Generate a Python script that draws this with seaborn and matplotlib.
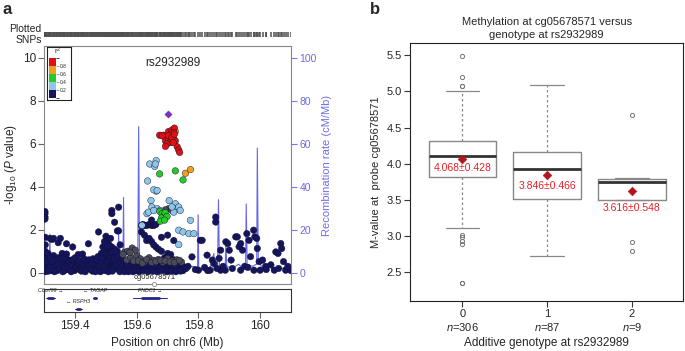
import numpy as np
import pandas as pd
import seaborn as sns
import matplotlib.pyplot as plt
from matplotlib.colors import ListedColormap, BoundaryNorm
from matplotlib.cm import ScalarMappable

## Data: panel a (regional plot), (position Mb, -log10 P) per LD bin
index_snp = [(159.701, 7.38)]

red_snps = [(159.674, 6.40), (159.687, 6.40), (159.703, 6.57), (159.714, 6.64), (159.722, 6.73),
            (159.720, 6.53), (159.711, 6.45), (159.698, 6.30), (159.693, 6.14), (159.703, 6.17),
            (159.709, 6.06), (159.698, 5.99), (159.693, 5.88), (159.720, 6.22), (159.725, 6.14),
            (159.731, 5.86), (159.736, 5.71), (159.739, 5.60), (159.682, 6.37), (159.703, 6.37),
            (159.714, 6.30), (159.718, 6.06), (159.722, 6.45)]
orange_snps = [(159.711, 6.53), (159.725, 6.57), (159.758, 4.63), (159.774, 4.80)]
green_snps = [(159.674, 4.60), (159.725, 4.74), (159.750, 4.32), (159.675, 2.85), (159.682, 2.75),
              (159.688, 2.65), (159.680, 2.55), (159.692, 2.80), (159.698, 2.62), (159.676, 2.40),
              (159.690, 2.45)]
lightblue_snps = [(159.642, 5.06), (159.658, 4.95), (159.663, 5.22), (159.660, 5.06), (159.635, 4.27),
                  (159.663, 3.80), (159.655, 3.86), (159.646, 3.36), (159.633, 2.75), (159.649, 3.06),
                  (159.666, 2.98), (159.676, 2.90), (159.705, 3.36), (159.725, 3.21), (159.731, 2.98),
                  (159.736, 3.06), (159.741, 2.90), (159.736, 1.98), (159.750, 1.90), (159.736, 1.31),
                  (159.774, 2.44), (159.769, 1.82), (159.785, 1.82), (159.617, 2.21), (159.666, 3.83),
                  (159.720, 2.82), (159.714, 3.06), (159.638, 2.82), (159.655, 2.90)]
gray_snps = [(159.703, 2.98), (159.714, 2.90), (159.725, 2.93), (159.693, 2.93), (159.568, 0.60),
             (159.580, 0.72), (159.590, 0.55), (159.600, 0.80), (159.612, 0.65), (159.625, 0.50),
             (159.640, 0.70), (159.655, 0.58), (159.670, 0.62), (159.685, 0.48), (159.700, 0.66),
             (159.715, 0.55), (159.730, 0.60), (159.745, 0.50), (159.560, 0.95), (159.570, 1.00),
             (159.555, 0.85), (159.585, 1.15), (159.595, 1.05), (159.578, 0.95), (159.605, 0.55),
             (159.618, 0.45), (159.632, 0.62), (159.648, 0.48), (159.662, 0.52), (159.678, 0.58),
             (159.692, 0.55), (159.708, 0.50), (159.722, 0.47), (159.738, 0.58)]
navy_snps = [
    (159.302, 2.85), (159.302, 2.75), (159.302, 2.60), (159.302, 2.50), (159.303, 1.65), (159.303, 1.30),
    (159.303, 1.00), (159.303, 0.75), (159.312, 0.90), (159.312, 0.40), (159.318, 1.60), (159.318, 0.60),
    (159.318, 0.20), (159.325, 1.55), (159.325, 0.35), (159.325, 0.10), (159.330, 1.60), (159.330, 0.80),
    (159.330, 0.30), (159.338, 0.50), (159.338, 0.15), (159.345, 1.40), (159.345, 0.70), (159.345, 0.25),
    (159.352, 1.60), (159.352, 0.40), (159.358, 0.90), (159.358, 0.20), (159.365, 0.55), (159.365, 0.10),
    (159.372, 1.35), (159.372, 0.87), (159.372, 0.30), (159.378, 0.60), (159.378, 0.15), (159.385, 0.45),
    (159.392, 1.20), (159.392, 0.25), (159.398, 0.50), (159.398, 0.10), (159.405, 0.35), (159.410, 0.85),
    (159.410, 0.20), (159.418, 0.40), (159.424, 0.87), (159.425, 0.10), (159.430, 0.30), (159.435, 0.60),
    (159.438, 0.45), (159.443, 1.35), (159.443, 0.20), (159.450, 0.55), (159.456, 0.30), (159.456, 0.08),
    (159.462, 0.50), (159.468, 0.25), (159.476, 1.90), (159.476, 0.40), (159.480, 0.60), (159.485, 0.90),
    (159.485, 0.20), (159.490, 1.20), (159.490, 0.50), (159.495, 1.45), (159.495, 0.70), (159.495, 0.30),
    (159.500, 1.70), (159.500, 1.10), (159.500, 0.60), (159.505, 1.50), (159.505, 0.90), (159.505, 0.25),
    (159.510, 1.30), (159.510, 0.80), (159.510, 0.40), (159.515, 1.60), (159.515, 1.00), (159.515, 0.50),
    (159.519, 2.90), (159.519, 2.75), (159.519, 1.20), (159.519, 0.30), (159.523, 0.90), (159.523, 0.60),
    (159.528, 2.35), (159.528, 1.10), (159.528, 0.40), (159.533, 0.80), (159.533, 0.20), (159.537, 1.95),
    (159.537, 1.00), (159.541, 3.05), (159.541, 1.95), (159.541, 0.50), (159.546, 1.30), (159.546, 0.70),
    (159.550, 0.60), (159.550, 0.20), (159.556, 0.40), (159.556, 0.10), (159.562, 0.30), (159.570, 0.45),
    (159.570, 0.15), (159.580, 0.35), (159.590, 0.25), (159.600, 0.40), (159.600, 0.10), (159.610, 0.30),
    (159.615, 2.20), (159.615, 1.90), (159.620, 2.25), (159.620, 0.20), (159.625, 2.20), (159.625, 1.75),
    (159.632, 2.20), (159.632, 1.50), (159.640, 2.25), (159.640, 1.60), (159.640, 0.30), (159.648, 2.20),
    (159.648, 2.45), (159.648, 1.45), (159.655, 2.20), (159.655, 1.30), (159.662, 2.25), (159.662, 1.20),
    (159.670, 1.10), (159.670, 0.40), (159.680, 1.65), (159.680, 1.00), (159.690, 0.70), (159.690, 0.25),
    (159.700, 1.75), (159.700, 0.90), (159.710, 0.85), (159.710, 0.30), (159.720, 0.60), (159.720, 1.50),
    (159.730, 0.50), (159.730, 0.15), (159.740, 0.40), (159.750, 0.30), (159.750, 0.10),
    (159.301, 0.30), (159.307, 0.15), (159.315, 0.45), (159.322, 0.25), (159.335, 0.40), (159.342, 0.10),
    (159.350, 0.20), (159.362, 0.35), (159.368, 0.25), (159.375, 0.40), (159.382, 0.20), (159.388, 0.35),
    (159.395, 0.15), (159.402, 0.25), (159.408, 0.45), (159.415, 0.15), (159.422, 0.30), (159.428, 0.45),
    (159.435, 0.20), (159.440, 0.40), (159.447, 0.30), (159.452, 0.15), (159.460, 0.35), (159.465, 0.45),
    (159.472, 0.20), (159.478, 0.30), (159.487, 0.45), (159.492, 0.25), (159.498, 0.35), (159.503, 0.50),
    (159.512, 0.15), (159.517, 0.60), (159.525, 0.25), (159.530, 0.55), (159.535, 0.35), (159.543, 0.20),
    (159.548, 0.45), (159.553, 0.30), (159.558, 0.55), (159.565, 0.20), (159.575, 0.30), (159.585, 0.15),
    (159.595, 0.35), (159.605, 0.20), (159.612, 0.50), (159.630, 0.35), (159.645, 0.15), (159.660, 0.30),
    (159.675, 0.20), (159.685, 0.35), (159.695, 0.15), (159.705, 0.40), (159.715, 0.20), (159.725, 0.30),
    (159.735, 0.45), (159.745, 0.15),
    (159.304, 0.05), (159.309, 0.55), (159.314, 0.08), (159.320, 0.70), (159.327, 0.55), (159.333, 0.05),
    (159.340, 0.60), (159.347, 0.45), (159.355, 0.65), (159.360, 0.05), (159.367, 0.70), (159.380, 0.55),
    (159.387, 0.05), (159.390, 0.60), (159.400, 0.70), (159.412, 0.55), (159.420, 0.08), (159.427, 0.65),
    (159.433, 0.05), (159.445, 0.60), (159.454, 0.45), (159.458, 0.65), (159.466, 0.05), (159.470, 0.60),
    (159.474, 0.75), (159.482, 0.05), (159.488, 0.70), (159.493, 0.95), (159.497, 0.10), (159.502, 0.85),
    (159.507, 1.25), (159.508, 0.05), (159.513, 0.75), (159.518, 0.95), (159.521, 0.08), (159.526, 0.70),
    (159.531, 1.00), (159.539, 0.75), (159.545, 0.05), (159.552, 0.70), (159.560, 0.05), (159.567, 0.45),
    (159.573, 0.05), (159.583, 0.50), (159.588, 0.05), (159.597, 0.10), (159.608, 0.05), (159.622, 0.10),
    (159.636, 0.05), (159.652, 0.08), (159.667, 0.05), (159.682, 0.10), (159.698, 0.05), (159.712, 0.08),
    (159.727, 0.05), (159.742, 0.08),
    (159.766, 0.30), (159.779, 0.74), (159.800, 0.12), (159.806, 1.51), (159.812, 1.51), (159.828, 0.82),
    (159.838, 0.12), (159.845, 0.59), (159.850, 0.43), (159.856, 2.59), (159.856, 2.36), (159.867, 0.67),
    (159.872, 1.05), (159.872, 0.12), (159.887, 0.12), (159.889, 1.44), (159.895, 1.36), (159.900, 1.05),
    (159.906, 0.59), (159.921, 1.67), (159.926, 1.67), (159.932, 1.21), (159.937, 1.36), (159.937, 0.12),
    (159.943, 1.05), (159.950, 0.30), (159.957, 1.82), (159.964, 1.51), (159.969, 0.75), (159.979, 1.98),
    (159.980, 0.12), (159.983, 1.67), (159.989, 1.60), (159.991, 1.13), (159.997, 0.52), (160.000, 0.12),
    (160.008, 0.59), (160.018, 0.30), (160.035, 0.37), (160.046, 0.12), (160.051, 0.97), (160.058, 0.90),
    (160.067, 1.36), (160.070, 1.13), (160.076, 0.52), (160.083, 0.12), (160.100, 0.10), (159.760, 0.20),
    (159.790, 0.15), (159.820, 0.25), (159.830, 0.10), (159.860, 0.20), (159.880, 0.30), (159.910, 0.20),
    (159.960, 0.25), (160.020, 0.15), (160.060, 0.20), (160.090, 0.30)]

# recombination rate (cM/Mb)
recomb_pos = [159.300, 159.306, 159.312, 159.316, 159.318, 159.320, 159.330, 159.345, 159.360, 159.380,
              159.400, 159.420, 159.440, 159.460, 159.480, 159.500, 159.515, 159.525, 159.530, 159.539,
              159.541, 159.543, 159.552, 159.555, 159.557, 159.559, 159.570, 159.590, 159.603, 159.606,
              159.609, 159.620, 159.640, 159.660, 159.680, 159.700, 159.720, 159.740, 159.760, 159.780,
              159.797, 159.799, 159.801, 159.820, 159.840, 159.850, 159.853, 159.862, 159.865, 159.868,
              159.880, 159.887, 159.889, 159.892, 159.910, 159.930, 159.945, 159.953, 159.955, 159.958,
              159.975, 159.989, 159.991, 159.994, 160.010, 160.030, 160.050, 160.070, 160.090, 160.100]
recomb_rate = [2, 1, 3, 1, 18, 1, 3, 1, 2, 1,
               2, 1, 3, 1, 2, 4, 2, 6, 2, 3,
               18, 3, 2, 4, 35, 3, 2, 3, 2, 68,
               2, 1, 2, 1, 2, 1, 2, 1, 2, 3,
               2, 27, 2, 1, 3, 9, 2, 3, 34, 3,
               2, 4, 13, 3, 2, 4, 2, 5, 32, 4,
               3, 4, 58, 5, 2, 3, 1, 2, 3, 1]

cpg_name = 'cg05678571'
cpg_pos = 159.657
lead_snp = 'rs2932989'

gene_names = ['C6orf99', 'TAGAP', 'RSPH3', 'FNDC1']
gene_start = [159.305, 159.459, 159.400, 159.589]
gene_end = [159.335, 159.472, 159.422, 159.699]
gene_strand = ['+', '-', '-', '+']
gene_row = [0, 0, 1, 0]

## Data: panel b (boxplot summary)
genotypes = ['0', '1', '2']
n_samples = [306, 87, 9]
box_q1 = [3.82, 3.51, 3.50]
box_med = [4.10, 3.93, 3.74]
box_q3 = [4.31, 4.16, 3.79]
whisk_lo = [3.11, 2.72, 3.50]
whisk_hi = [5.00, 5.09, 3.80]
outliers = [[5.49, 5.20, 5.08, 5.07, 3.01, 2.98, 2.93, 2.89, 2.35, 2.34], [], [4.68, 2.92, 2.79]]
means = [4.068, 3.846, 3.616]
sds = [0.428, 0.466, 0.548]
label_drop = [0.13, 0.15, 0.23]

ld_colors = {'navy': '#15155f', 'gray': '#4a4a58', 'lightblue': '#8ec6e8',
             'green': '#22cc22', 'orange': '#f0a020', 'red': '#e01010'}

## Style
sns.set_style('ticks')
plt.rcParams['font.family'] = ['Liberation Sans', 'DejaVu Sans']
plt.rcParams['mathtext.fontset'] = 'custom'
plt.rcParams['mathtext.rm'] = 'Liberation Sans'
plt.rcParams['mathtext.it'] = 'Liberation Sans:italic'
plt.rcParams['mathtext.bf'] = 'Liberation Sans:bold'

fig = plt.figure(figsize=(6.85, 3.51), dpi=100)

## Panel a
ax = fig.add_axes([0.0647, 0.191, 0.360, 0.678])
ax_r = ax.twinx()
ax_rug = fig.add_axes([0.0647, 0.894, 0.360, 0.014])
ax_gene = fig.add_axes([0.0647, 0.111, 0.360, 0.0655])

groups = [('navy', navy_snps), ('gray', gray_snps), ('lightblue', lightblue_snps),
          ('green', green_snps), ('orange', orange_snps), ('red', red_snps)]
frames = []
for ld, pts in groups:
    p, v = zip(*pts)
    frames.append(pd.DataFrame({'pos': p, 'logp': v, 'ld': ld}))
snp_df = pd.concat(frames, ignore_index=True)

recomb_df = pd.DataFrame({'pos': recomb_pos, 'rate': recomb_rate})
sns.lineplot(data=recomb_df, x='pos', y='rate', ax=ax_r, color='#4a4af0', lw=0.8, alpha=0.85)

sns.scatterplot(data=snp_df, x='pos', y='logp', hue='ld', palette=ld_colors, s=22,
                edgecolor='#10102a', linewidth=0.3, legend=False, ax=ax, zorder=3)
ip, iv = zip(*index_snp)
sns.scatterplot(x=list(ip), y=list(iv), marker='D', s=14, color='#7b2fbe', edgecolor='#7b2fbe',
                ax=ax, zorder=4)

ax.set_zorder(ax_r.get_zorder() + 1)
ax.patch.set_visible(False)

ax.set_xlim(159.3, 160.1)
ax.set_ylim(-0.52, 10.55)
ax_r.set_ylim(-5.2, 105.5)
ax.set_xticks([])
ax.set_xlabel('')
ax.set_yticks(range(0, 11, 2))
ax.tick_params(axis='y', labelsize=8.5, length=4, color='#666666', pad=2)
ax.set_ylabel('-log$_{10}$ ($P$ value)', fontsize=8.5, labelpad=3)
for s in ax.spines.values():
    s.set_color('#888888')
    s.set_linewidth(0.8)
for s in ax_r.spines.values():
    s.set_visible(False)
ax_r.set_yticks(range(0, 101, 20))
ax_r.tick_params(axis='y', labelsize=7.5, length=4, color='#7777ee', labelcolor='#6a6ae0', pad=2)
ax_r.set_ylabel('Recombination rate (cM/Mb)', fontsize=8, color='#7070e0', labelpad=4)
ax_r.set_xlabel('')

ax.text(159.717, 9.75, lead_snp, fontsize=8.5, ha='center', va='center')
ax.text(cpg_pos, -0.22, cpg_name, fontsize=5.5, ha='center', va='center')
ax.plot([cpg_pos], [-0.52], marker='o', ms=3, mfc='white', mec='#888888', mew=0.6,
        clip_on=False, zorder=5)

# LD legend
ax_leg = fig.add_axes([0.0686, 0.715, 0.035, 0.151])
ax_leg.set_xticks([])
ax_leg.set_yticks([])
ax_leg.set_zorder(ax.get_zorder() + 1)
for s in ax_leg.spines.values():
    s.set_color('#222222')
    s.set_linewidth(0.8)
cax = fig.add_axes([0.0717, 0.720, 0.0095, 0.115])
cax.set_zorder(ax_leg.get_zorder() + 1)
cmap = ListedColormap([ld_colors['navy'], ld_colors['lightblue'], ld_colors['green'],
                       ld_colors['orange'], ld_colors['red']])
norm = BoundaryNorm([0, 0.2, 0.4, 0.6, 0.8, 1.0], cmap.N)
cb = fig.colorbar(ScalarMappable(norm=norm, cmap=cmap), cax=cax, ticks=[0.2, 0.4, 0.6, 0.8])
cb.outline.set_visible(False)
cax.tick_params(labelsize=3.5, length=2, width=0.4, color='#666666', pad=1)
fig.text(0.0845, 0.853, 'r$^2$', fontsize=5.5, ha='center', va='center')

# plotted SNPs rug
rug_pos = sorted(set(snp_df['pos']) | set(ip))
ax_rug.vlines(rug_pos, 0, 1, color='#505050', lw=1.1)
ax_rug.set_xlim(159.3, 160.1)
ax_rug.set_ylim(0, 1)
ax_rug.axis('off')
fig.text(0.061, 0.901, 'Plotted\nSNPs', fontsize=7.5, ha='right', va='center', linespacing=1.1)

# genes
ax_gene.set_xlim(159.3, 160.1)
ax_gene.set_ylim(0, 1)
for name, g0, g1, strand, row in zip(gene_names, gene_start, gene_end, gene_strand, gene_row):
    y_line = 0.62 - 0.47 * row
    ax_gene.plot([g0, g1], [y_line, y_line], color='#22228a', lw=0.7)
    ax_gene.plot([g0 + 0.25 * (g1 - g0), g1 - 0.25 * (g1 - g0)], [y_line, y_line],
                 color='#22228a', lw=2.0)
    label = f'{name} \u2192' if strand == '+' else f'\u2190 {name}'
    ax_gene.text((g0 + g1) / 2, y_line + 0.2, label, fontsize=3.8, ha='center', va='bottom',
                 style='italic')
ax_gene.set_yticks([])
ax_gene.set_xticks([159.4, 159.6, 159.8, 160.0])
ax_gene.set_xticklabels(['159.4', '159.6', '159.8', '160'])
ax_gene.tick_params(axis='x', labelsize=8.5, length=4, color='#666666', pad=2)
for s in ax_gene.spines.values():
    s.set_color('#333333')
    s.set_linewidth(0.8)
ax_gene.set_xlabel('Position on chr6 (Mb)', fontsize=8.5, labelpad=3)

## Panel b
ax_b = fig.add_axes([0.5985, 0.1433, 0.399, 0.734])
stats = []
for i in range(len(genotypes)):
    stats.append(dict(q1=box_q1[i], med=box_med[i], q3=box_q3[i], whislo=whisk_lo[i],
                      whishi=whisk_hi[i], fliers=outliers[i]))
ax_b.bxp(stats, positions=range(len(genotypes)), widths=0.8, capwidths=0.4,
         boxprops=dict(color='#888888', lw=1.0),
         medianprops=dict(color='#333333', lw=2.0),
         whiskerprops=dict(color='#888888', lw=0.9, ls=(0, (2, 2))),
         capprops=dict(color='#888888', lw=0.9),
         flierprops=dict(marker='o', mfc='none', mec='#777777', ms=3, mew=0.7))
sns.scatterplot(x=list(range(len(genotypes))), y=means, marker='D', s=20, color='#b0161c',
                edgecolor='#b0161c', ax=ax_b, zorder=5)
for i, (m, sd) in enumerate(zip(means, sds)):
    ax_b.text(i, m - label_drop[i], f'{m:.3f}\u00b1{sd:.3f}', color='#e8202a', fontsize=7.5,
              ha='center', va='center', zorder=6)

ax_b.set_xlim(-0.62, 2.61)
ax_b.set_ylim(2.1, 5.67)
ax_b.set_yticks([2.5, 3.0, 3.5, 4.0, 4.5, 5.0, 5.5])
ax_b.set_yticklabels([f'{v:.1f}' for v in [2.5, 3.0, 3.5, 4.0, 4.5, 5.0, 5.5]])
ax_b.set_xticks(range(len(genotypes)))
ax_b.set_xticklabels([f'{g}\n$n$={n}' for g, n in zip(genotypes, n_samples)])
ax_b.tick_params(axis='both', labelsize=8, length=4, color='#333333', pad=2)
for s in ax_b.spines.values():
    s.set_color('#222222')
    s.set_linewidth(0.8)
ax_b.set_xlabel('Additive genotype at rs2932989', fontsize=8.5, labelpad=3)
ax_b.set_ylabel('M-value at  probe cg05678571', fontsize=8, labelpad=4)
ax_b.set_title('Methylation at cg05678571 versus\ngenotype at rs2932989', fontsize=8, pad=4,
               linespacing=1.3)

fig.text(0.004, 0.995, 'a', fontsize=12, fontweight='bold', ha='left', va='top')
fig.text(0.540, 0.995, 'b', fontsize=12, fontweight='bold', ha='left', va='top')

fig.savefig('out.png', dpi=100)
